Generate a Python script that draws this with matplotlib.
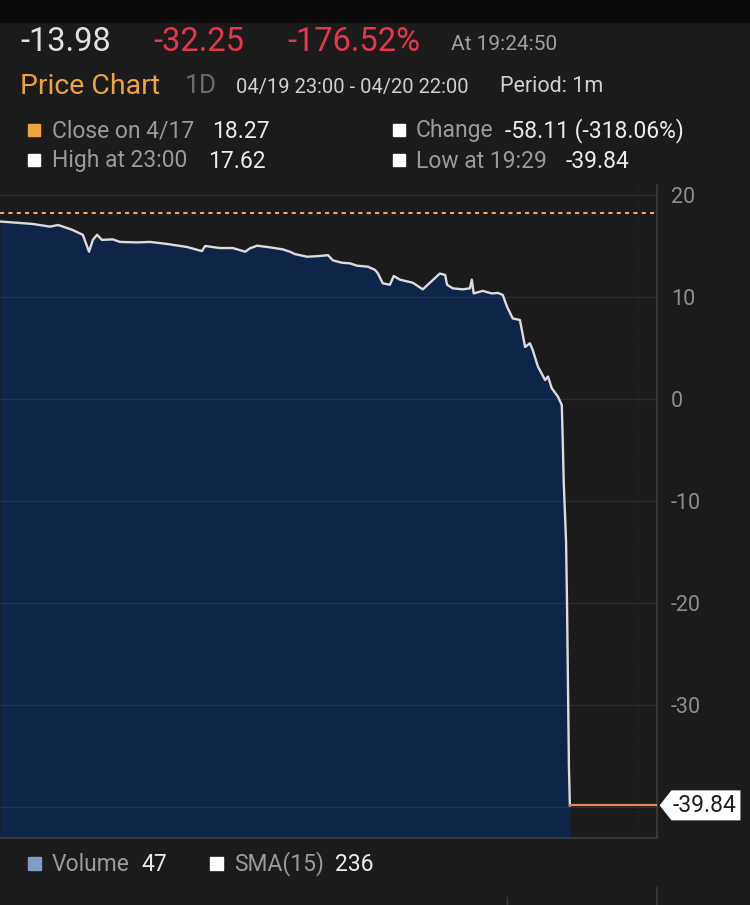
import matplotlib.pyplot as plt
from matplotlib.patches import Rectangle, Polygon

# price trace, minutes after 04/19 23:00 (1m bars)
minutes = [0, 36, 69, 105, 122, 151, 174, 187, 195, 204, 214, 237, 252, 288, 315,
           351, 393, 424, 431, 462, 489, 515,
           525, 540, 567, 594, 609, 620, 645, 666, 689, 699, 718, 735, 750, 773,
           788, 794, 804, 819, 827, 840, 867, 888, 903, 924, 935, 939, 951, 972,
           987, 991, 995, 1014, 1033, 1046,
           1056, 1065, 1077, 1092, 1103, 1113, 1119, 1130, 1145, 1151, 1159, 1172,
           1180, 1182, 1184, 1189, 1191, 1193, 1195, 1197]
prices = [17.40, 17.28, 17.16, 16.90, 17.06, 16.60, 16.10, 14.44, 15.60, 16.10,
          15.60, 15.65, 15.40, 15.35, 15.40, 15.20, 14.90, 14.50, 15.00, 14.80,
          14.80, 14.44,
          14.77, 15.03, 14.87, 14.67, 14.44, 14.20, 13.95, 14.00, 14.10, 13.60,
          13.36, 13.30, 13.07, 12.97, 12.65, 12.30, 11.34, 11.20, 12.06, 11.70,
          11.40, 10.75, 11.40, 12.30, 12.16, 11.20, 10.85, 10.75, 10.85, 11.70,
          10.35, 10.60, 10.35, 10.40,
          10.20, 9.05, 7.90, 7.75, 5.10, 5.46, 4.80, 3.17, 1.86, 2.20, 1.05, 0.23,
          -0.60, -4.0, -8.0, -14.0, -20.0, -28.0, -36.0, -39.84]

prev_close = 18.27
last_price = -39.84
session_end = 1380
y_ticks = [-30, -20, -10, 0, 10, 20]
grid_levels = [-40, -30, -20, -10, 0, 10, 20]

BG = '#1b1b1b'
NAVY = '#0e2449'
ORANGE = '#f0a33a'
RED = '#e8364f'
GRAY = '#9a9a9a'
WHITE = '#ececec'

plt.rcParams['font.family'] = ['Roboto', 'DejaVu Sans']
plt.rcParams['axes.unicode_minus'] = False

W, H = 750, 905
fig = plt.figure(figsize=(W / 100, H / 100), dpi=100, facecolor=BG)


def px(x, y):
    return x / W, 1 - y / H


def label(x, y, s, color, size):
    fig.text(*px(x, y), s, color=color, fontsize=size, ha='left', va='center')


def square(x, y, color, side=12):
    fig.patches.append(Rectangle(px(x, y + side), side / W, side / H,
                                 transform=fig.transFigure, color=color))


# top status strip
fig.patches.append(Rectangle((0, 1 - 22 / H), 1, 22 / H, transform=fig.transFigure,
                             color='#0a0a0a'))

# header
label(20, 42, '-13.98', '#e2e2e2', 23.5)
label(153, 42, '-32.25', RED, 23.5)
label(287, 42, '-176.52%', RED, 23.5)
label(451, 44, 'At 19:24:50', '#a0a0a0', 15)

label(20, 86, 'Price Chart', ORANGE, 20.5)
label(185, 86, '1D', '#6c6c6c', 19)
label(236, 87, '04/19 23:00 - 04/20 22:00', '#d0d0d0', 14.5)
label(500, 87, 'Period: 1m', '#d0d0d0', 15.5)

square(28, 124, ORANGE)
label(52, 131, 'Close on 4/17', GRAY, 16.5)
label(212, 131, '18.27', WHITE, 16.5)
square(393, 124, '#ffffff')
label(416, 131, 'Change', GRAY, 16.5)
label(505, 131, '-58.11 (-318.06%)', WHITE, 16.5)

square(28, 154, '#ffffff')
label(52, 161, 'High at 23:00', GRAY, 16.5)
label(208, 161, '17.62', WHITE, 16.5)
square(393, 154, '#ffffff')
label(416, 161, 'Low at 19:29', GRAY, 16.5)
label(566, 161, '-39.84', WHITE, 16.5)

# main price panel
ax = fig.add_axes([0, 1 - 838 / H, 657 / W, (838 - 185) / H])
ax.set_facecolor(BG)
y_low = (399 - 838) / 10.2
y_high = (399 - 185) / 10.2
ax.set_xlim(0, session_end)
ax.set_ylim(y_low, y_high)

ax.fill_between(minutes, prices, y_low, color=NAVY, lw=0, zorder=1)
for g in grid_levels:
    ax.axhline(g, color='white', alpha=0.07, lw=1, zorder=2)
ax.axvline(1340, color='white', alpha=0.05, lw=1, ls=':', zorder=2)
ax.plot(minutes, prices, color='#dcdcdc', lw=1.7, zorder=3)
ax.plot([minutes[-1], session_end], [last_price, last_price], color='#e8874a',
        lw=1.6, zorder=3)
ax.axhline(prev_close, color='#f2a86a', lw=1.5, ls=(0, (2, 2)), zorder=3)

ax.yaxis.tick_right()
ax.set_yticks(y_ticks)
ax.set_xticks([])
ax.tick_params(axis='y', length=0, pad=10, labelsize=15.5, labelcolor='#8e8e8e')
for side in ['left', 'top']:
    ax.spines[side].set_visible(False)
for side in ['right', 'bottom']:
    ax.spines[side].set_color('#3c3c3c')
    ax.spines[side].set_linewidth(1.2)

# last price tag
tr = ax.get_yaxis_transform()
dy = 15 / 10.2
tag = Polygon([(1.004, last_price), (1.022, last_price + dy), (1.127, last_price + dy),
               (1.127, last_price - dy), (1.022, last_price - dy)],
              closed=True, transform=tr, clip_on=False, fc='white', ec='none', zorder=5)
ax.add_patch(tag)
ax.text(1.073, last_price, '-39.84', transform=tr, ha='center', va='center',
        fontsize=16.5, color='#1e1e1e', zorder=6)

# volume legend
square(28, 857, '#7e9cc6', 13)
label(52, 864, 'Volume', GRAY, 16.5)
label(141, 864, '47', WHITE, 16.5)
square(210, 857, '#ffffff', 13)
label(234, 864, 'SMA(15)', GRAY, 16.5)
label(335, 864, '236', WHITE, 16.5)

fig.add_artist(plt.Line2D([657 / W, 657 / W], [0, 1 - 888 / H], color='#3c3c3c', lw=1.2))
fig.add_artist(plt.Line2D([507 / W, 507 / W], [0, 1 - 897 / H], color='#3c3c3c', lw=1.0))

fig.savefig('out.png', dpi=100, facecolor=BG)
